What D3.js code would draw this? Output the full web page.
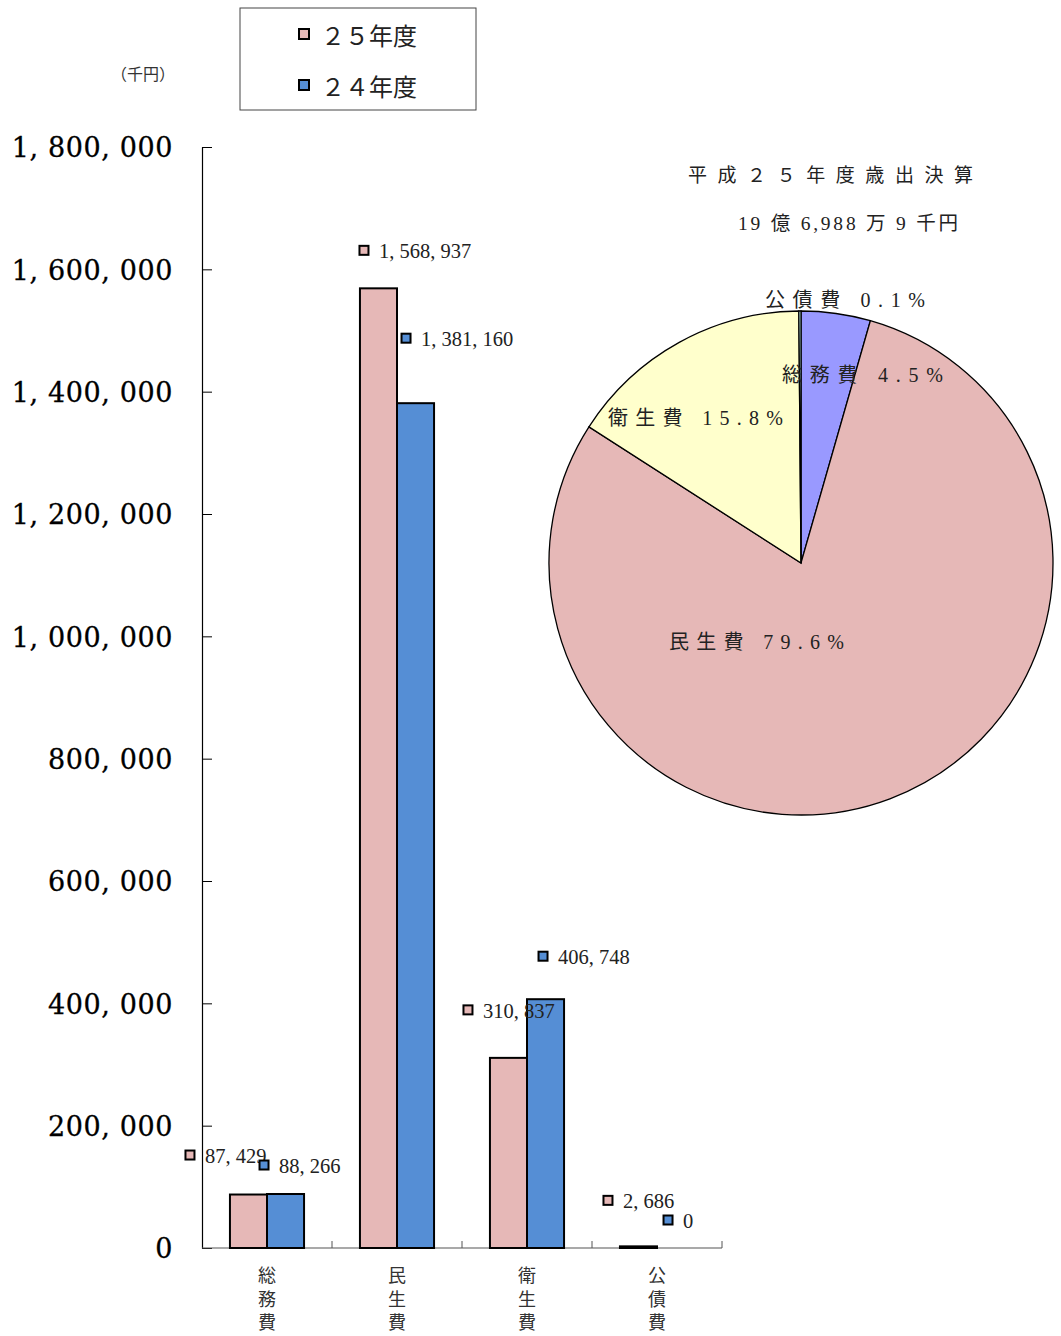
<!DOCTYPE html>
<html><head><meta charset="utf-8">
<script src="https://cdn.jsdelivr.net/npm/d3@7"></script>
<style>body{margin:0;background:#fff}svg{display:block}</style>
</head><body><svg id="c" width="1061" height="1336"></svg>
<script>
// ---- data ----
const categories = ["総務費", "民生費", "衛生費", "公債費"];
const seriesNames = ["２５年度", "２４年度"];
const values25 = [87429, 1568937, 310837, 2686];
const values24 = [88266, 1381160, 406748, 0];
const yTicks = [0, 200000, 400000, 600000, 800000, 1000000, 1200000, 1400000, 1600000, 1800000];
const piePercentLabels = ["4.5%", "79.6%", "15.8%", "0.1%"];
const pieTitle = "平成２５年度歳出決算";
const pieTotal = "19 億 6,988 万 9 千円";
const unitLabel = "（千円）";

// ---- layout / style ----
const seriesColors = ["#E6B8B7", "#558ED5"];
const pieColors = ["#9999FF", "#E6B8B7", "#FFFFCC", "#CCFFFF"];
// data-label marker offsets relative to (bar centre, bar top)
const labelOffsets = [
  [[-58.5, -39.5], [-14.5, -38], [-40.5, -48], [-30.5, -46]],
  [[-21.5, -29], [-9.5, -65], [-2.5, -43], [-7.5, -28]]
];
// pie label boxes: [left, centreY, width]
const pieLabelBoxes = [[782, 375, 161], [669, 642, 175], [608, 418, 175], [765, 300, 160]];

const svg = d3.select("#c");
const serif = "'Liberation Serif','Noto Sans CJK JP',serif";
const cjk = "'Noto Sans CJK JP',sans-serif";

const y = d3.scaleLinear().domain([0, 1800000]).range([1248, 147]);
const x0 = d3.scaleBand().domain(categories).range([202, 722]).paddingInner(0.43).paddingOuter(0.215);
const x1 = d3.scaleBand().domain([0, 1]).range([0, x0.bandwidth()]);
const fmt = d => d3.format(",")(d).replace(/,/g, ", ");

// y axis
const yAxis = svg.append("g").attr("transform", "translate(202,0)")
  .call(d3.axisLeft(y).tickValues(yTicks).tickSizeInner(-10).tickSizeOuter(0).tickPadding(29).tickFormat(fmt));
yAxis.select(".domain").attr("stroke", "#000").attr("stroke-width", 1.2);
yAxis.selectAll(".tick line").attr("stroke", "#000");
yAxis.selectAll(".tick text").attr("font-family", "'DejaVu Serif',serif").attr("font-size", 27)
  .attr("fill", "#000").attr("letter-spacing", 0.6).attr("stroke", "#000").attr("stroke-width", 0.3)
  .attr("dy", "0.36em");

// x axis
const xa = svg.append("g");
xa.append("line").attr("x1", 202).attr("x2", 722).attr("y1", y(0)).attr("y2", y(0))
  .attr("stroke", "#555").attr("stroke-width", 1.2);
const step = x0.step();
categories.forEach((c, i) => {
  const bx = x0(c) - x0.paddingOuter() * step + step; // right boundary of band
  xa.append("line").attr("x1", bx).attr("x2", bx).attr("y1", y(0)).attr("y2", y(0) - 7)
    .attr("stroke", "#555");
  const cx = x0(c) + x0.bandwidth() / 2;
  [...c].forEach((ch, k) => {
    xa.append("text").attr("x", cx).attr("y", 1274 + k * 23.5).attr("text-anchor", "middle")
      .attr("dominant-baseline", "central").attr("font-family", cjk).attr("font-size", 18)
      .attr("fill", "#333").text(ch);
  });
});

// bars
const seriesVals = [values25, values24];
seriesVals.forEach((vals, s) => {
  svg.append("g").selectAll("rect").data(vals.map((v, i) => ({v, c: categories[i]})).filter(d => d.v > 0))
    .join("rect")
    .attr("x", d => x0(d.c) + x1(s)).attr("width", x1.bandwidth())
    .attr("y", d => y(d.v)).attr("height", d => y(0) - y(d.v))
    .attr("fill", seriesColors[s]).attr("stroke", "#000").attr("stroke-width", 2);
});

// data labels
seriesVals.forEach((vals, s) => {
  vals.forEach((v, i) => {
    const c = categories[i];
    const mx = x0(c) + x1(s) + x1.bandwidth() / 2 + labelOffsets[s][i][0];
    const my = y(v) + labelOffsets[s][i][1];
    svg.append("rect").attr("x", mx - 4.5).attr("y", my - 4.5).attr("width", 9).attr("height", 9)
      .attr("fill", seriesColors[s]).attr("stroke", "#000").attr("stroke-width", 2);
    svg.append("text").attr("x", mx + 15).attr("y", my + 1).attr("dominant-baseline", "central")
      .attr("font-family", serif).attr("font-size", 20.5).attr("fill", "#222").text(fmt(v));
  });
});

// legend
svg.append("rect").attr("x", 240).attr("y", 8).attr("width", 236).attr("height", 102)
  .attr("fill", "#fff").attr("stroke", "#444").attr("stroke-width", 1);
seriesNames.forEach((n, s) => {
  const ly = 34 + s * 51;
  svg.append("rect").attr("x", 299).attr("y", ly - 5).attr("width", 10).attr("height", 10)
    .attr("fill", seriesColors[s]).attr("stroke", "#000").attr("stroke-width", 2);
  svg.append("text").attr("x", 321).attr("y", ly).attr("dominant-baseline", "central")
    .attr("font-family", cjk).attr("font-size", 24).attr("fill", "#222").text(n);
});
svg.append("text").attr("x", 143).attr("y", 73).attr("dominant-baseline", "central")
  .attr("text-anchor", "middle")
  .attr("font-family", "'Noto Sans CJK JP'").attr("font-size", 16).attr("fill", "#333").text(unitLabel);

// pie
const cx = 801, cy = 563, r = 252;
const pie = d3.pie().sort(null).value(d => d)(values25);
const arc = d3.arc().innerRadius(0).outerRadius(r);
svg.append("g").attr("transform", `translate(${cx},${cy})`).selectAll("path").data(pie).join("path")
  .attr("d", arc).attr("fill", (d, i) => pieColors[i]).attr("stroke", "#000").attr("stroke-width", 1.3);

// pie titles
svg.append("text").attr("x", 688).attr("y", 175).attr("dominant-baseline", "central")
  .attr("font-family", serif).attr("font-size", 19).attr("fill", "#222")
  .attr("textLength", 285).attr("lengthAdjust", "spacing").text(pieTitle);
svg.append("text").attr("x", 738).attr("y", 223).attr("dominant-baseline", "central")
  .attr("font-family", serif).attr("font-size", 19.5).attr("fill", "#222")
  .attr("textLength", 220).attr("lengthAdjust", "spacing").text(pieTotal);

// pie labels
categories.forEach((c, i) => {
  const b = pieLabelBoxes[i];
  svg.append("text").attr("x", b[0]).attr("y", b[1]).attr("dominant-baseline", "central")
    .attr("font-family", serif).attr("font-size", 20).attr("fill", "#222")
    .attr("textLength", b[2]).attr("lengthAdjust", "spacing")
    .text(c + " " + piePercentLabels[i]);
});
</script></body></html>
